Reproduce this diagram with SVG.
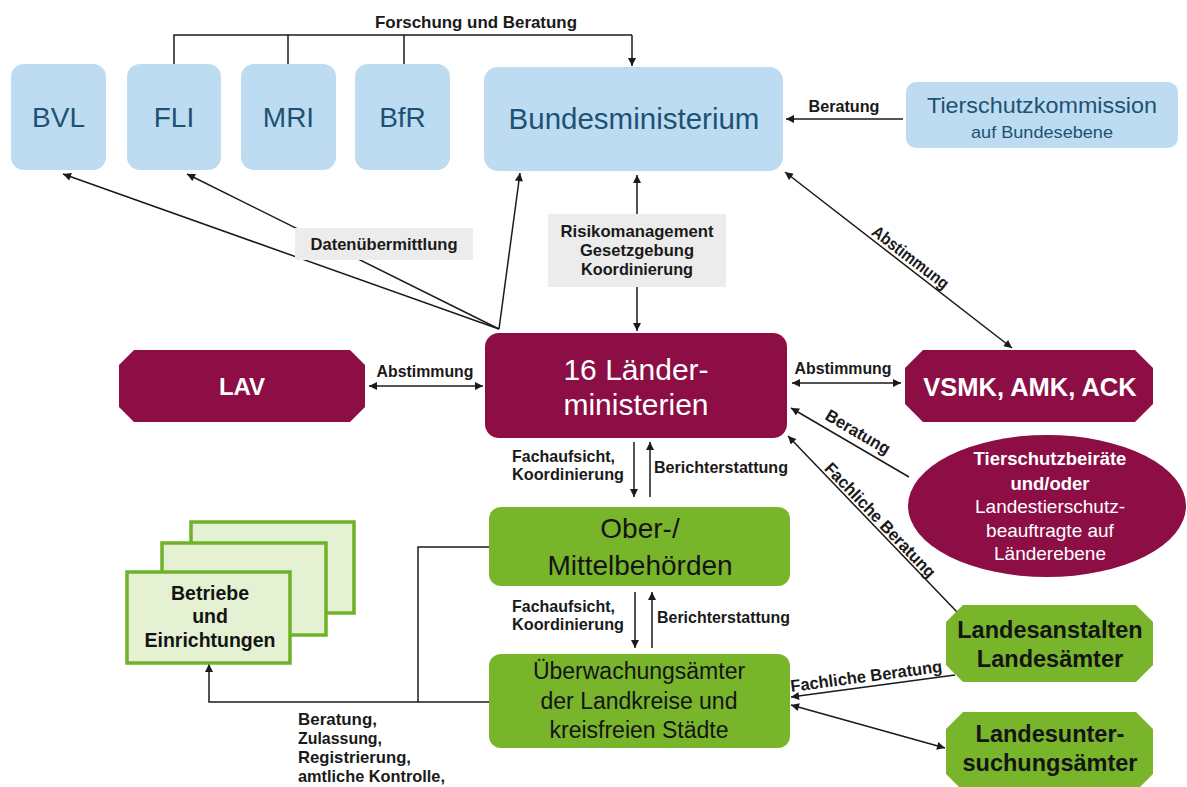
<svg xmlns="http://www.w3.org/2000/svg" width="1187" height="787" viewBox="0 0 1187 787">
<defs>
<marker id="ah" viewBox="0 0 10 10" refX="10" refY="5" markerWidth="9" markerHeight="8" markerUnits="userSpaceOnUse" orient="auto-start-reverse">
<path d="M0,0 L10,5 L0,10 z" fill="#1a1a1a"/>
</marker>
<style>
.blue{fill:#bddcf1}
.bt{font-family:"Liberation Sans",Arial,sans-serif;fill:#1d5274;text-anchor:middle}
.crim{fill:#8c0e45}
.wt{font-family:"Liberation Sans",Arial,sans-serif;fill:#ffffff;text-anchor:middle}
.green{fill:#78b52b}
.gt{font-family:"Liberation Sans",Arial,sans-serif;fill:#141414;text-anchor:middle}
.lbl{font-family:"Liberation Sans",Arial,sans-serif;font-weight:bold;font-size:17px;fill:#1a1a1a}
.ln{fill:none;stroke:#1a1a1a;stroke-width:1.5}
.arr{fill:none;stroke:#1a1a1a;stroke-width:1.5;marker-end:url(#ah)}
.arr2{fill:none;stroke:#1a1a1a;stroke-width:1.5;marker-end:url(#ah);marker-start:url(#ah)}
.gbox{fill:#ececec}
.stack{fill:#e4f1d3;stroke:#6fb22a;stroke-width:3.5}
</style>
</defs>
<rect width="1187" height="787" fill="#ffffff"/>

<g id="connectors">
<polyline class="ln" points="174,64 174,35 632,35"/>
<line class="ln" x1="288" y1="64" x2="288" y2="35"/>
<line class="ln" x1="404" y1="64" x2="404" y2="35"/>
<polyline class="arr" points="632,35 632,66"/>
<line class="arr" x1="903" y1="119" x2="786" y2="119"/>
<line class="arr2" x1="785" y1="172" x2="1012" y2="348"/>
<line class="arr" x1="499" y1="329" x2="63" y2="174"/>
<line class="arr" x1="499" y1="329" x2="187" y2="174"/>
<line class="arr" x1="499" y1="329" x2="520" y2="173"/>
<line class="arr" x1="637" y1="214" x2="637" y2="175"/>
<line class="arr" x1="637" y1="287" x2="637" y2="331"/>
<line class="arr2" x1="369" y1="386" x2="483" y2="386"/>
<line class="arr2" x1="792" y1="383" x2="901" y2="383"/>
<line class="arr" x1="909" y1="477" x2="791" y2="408"/>
<line class="arr" x1="958" y1="613" x2="788" y2="436"/>
<line class="arr" x1="634" y1="442" x2="634" y2="497"/>
<line class="arr" x1="650" y1="497" x2="650" y2="442"/>
<line class="arr" x1="635" y1="592" x2="635" y2="648"/>
<line class="arr" x1="652" y1="648" x2="652" y2="592"/>
<polyline class="ln" points="489,547 418,547 418,702"/>
<polyline class="arr" points="489,702 209,702 209,664"/>
<line class="arr" x1="955" y1="675" x2="791" y2="697"/>
<line class="arr2" x1="791" y1="705" x2="945" y2="748"/>
</g>

<g id="labels">
<text class="lbl" x="476" y="28" text-anchor="middle" textLength="202" lengthAdjust="spacingAndGlyphs">Forschung und Beratung</text>
<text class="lbl" x="844" y="112" text-anchor="middle" textLength="71" lengthAdjust="spacingAndGlyphs">Beratung</text>
<text class="lbl" transform="translate(907,262) rotate(37.5)" text-anchor="middle" textLength="92" lengthAdjust="spacingAndGlyphs">Abstimmung</text>
<rect class="gbox" x="295" y="228" width="178" height="32"/>
<text class="lbl" x="384" y="250" text-anchor="middle" textLength="147" lengthAdjust="spacingAndGlyphs">Datenübermittlung</text>
<rect class="gbox" x="548" y="214" width="178" height="73"/>
<text class="lbl" x="637" y="237" text-anchor="middle" textLength="153" lengthAdjust="spacingAndGlyphs">Risikomanagement</text>
<text class="lbl" x="637" y="256" text-anchor="middle" textLength="114" lengthAdjust="spacingAndGlyphs">Gesetzgebung</text>
<text class="lbl" x="637" y="275" text-anchor="middle" textLength="112" lengthAdjust="spacingAndGlyphs">Koordinierung</text>
<text class="lbl" x="425" y="377" text-anchor="middle" textLength="97" lengthAdjust="spacingAndGlyphs">Abstimmung</text>
<text class="lbl" x="843" y="374" text-anchor="middle" textLength="97" lengthAdjust="spacingAndGlyphs">Abstimmung</text>
<text class="lbl" transform="translate(855,437) rotate(30.3)" text-anchor="middle" textLength="72" lengthAdjust="spacingAndGlyphs">Beratung</text>
<text class="lbl" transform="translate(876,524) rotate(46.2)" text-anchor="middle" textLength="152" lengthAdjust="spacingAndGlyphs">Fachliche Beratung</text>
<text class="lbl" transform="translate(867,682) rotate(-7.6)" text-anchor="middle" textLength="153" lengthAdjust="spacingAndGlyphs">Fachliche Beratung</text>
<text class="lbl" x="512" y="462" textLength="103" lengthAdjust="spacingAndGlyphs">Fachaufsicht,</text>
<text class="lbl" x="512" y="480" textLength="112" lengthAdjust="spacingAndGlyphs">Koordinierung</text>
<text class="lbl" x="654" y="473" textLength="134" lengthAdjust="spacingAndGlyphs">Berichterstattung</text>
<text class="lbl" x="512" y="612" textLength="103" lengthAdjust="spacingAndGlyphs">Fachaufsicht,</text>
<text class="lbl" x="512" y="630" textLength="112" lengthAdjust="spacingAndGlyphs">Koordinierung</text>
<text class="lbl" x="657" y="623" textLength="133" lengthAdjust="spacingAndGlyphs">Berichterstattung</text>
<text class="lbl" x="298" y="725" textLength="79" lengthAdjust="spacingAndGlyphs">Beratung,</text>
<text class="lbl" x="298" y="744" textLength="84" lengthAdjust="spacingAndGlyphs">Zulassung,</text>
<text class="lbl" x="298" y="763" textLength="113" lengthAdjust="spacingAndGlyphs">Registrierung,</text>
<text class="lbl" x="298" y="782" textLength="147" lengthAdjust="spacingAndGlyphs">amtliche Kontrolle,</text>
</g>

<g id="bvl"><rect class="blue" x="11" y="64" width="95" height="106" rx="13"/><text class="bt" x="58.5" y="127" font-size="28">BVL</text></g>
<g id="fli"><rect class="blue" x="127" y="64" width="94" height="106" rx="13"/><text class="bt" x="174" y="127" font-size="28">FLI</text></g>
<g id="mri"><rect class="blue" x="241" y="64" width="95" height="106" rx="13"/><text class="bt" x="288.5" y="127" font-size="28">MRI</text></g>
<g id="bfr"><rect class="blue" x="355" y="64" width="95" height="106" rx="13"/><text class="bt" x="402.5" y="127" font-size="28">BfR</text></g>
<g id="bundesministerium"><rect class="blue" x="484" y="67" width="299" height="104" rx="14"/><text class="bt" x="634" y="129" font-size="29.5">Bundesministerium</text></g>
<g id="tierschutzkommission"><rect class="blue" x="906" y="82" width="272" height="66" rx="10"/><text class="bt" x="1042" y="113" font-size="22" textLength="230" lengthAdjust="spacingAndGlyphs">Tierschutzkommission</text><text class="bt" x="1042" y="138" font-size="17" textLength="142" lengthAdjust="spacingAndGlyphs">auf Bundesebene</text></g>

<g id="lav"><polygon class="crim" points="134,350 350,350 365,365 365,407 350,422 134,422 119,407 119,365"/><text class="wt" x="242" y="395" font-size="24" font-weight="bold">LAV</text></g>
<g id="laender"><rect class="crim" x="485" y="333" width="302" height="105" rx="14"/><text class="wt" x="636" y="380" font-size="30">16 Länder-</text><text class="wt" x="636" y="415" font-size="30">ministerien</text></g>
<g id="vsmk"><polygon class="crim" points="923,350 1135,350 1153,368 1153,404 1135,422 923,422 905,404 905,368"/><text class="wt" x="1030" y="396" font-size="25.5" font-weight="bold">VSMK, AMK, ACK</text></g>
<g id="tierschutzbeiraete"><ellipse class="crim" cx="1047" cy="506" rx="139" ry="71"/>
<text class="wt" x="1050" y="465" font-size="18.5" font-weight="bold">Tierschutzbeiräte</text>
<text class="wt" x="1050" y="490" font-size="18.5" font-weight="bold">und/oder</text>
<text class="wt" x="1050" y="513" font-size="19">Landestierschutz-</text>
<text class="wt" x="1050" y="537" font-size="19">beauftragte auf</text>
<text class="wt" x="1050" y="560" font-size="19">Länderebene</text></g>

<g id="ober"><rect class="green" x="489" y="507" width="301" height="79" rx="12"/><text class="gt" x="640" y="538" font-size="28">Ober-/</text><text class="gt" x="640" y="575" font-size="28">Mittelbehörden</text></g>
<g id="ueberwachung"><rect class="green" x="489" y="654" width="301" height="94" rx="12"/><text class="gt" x="639" y="679" font-size="23">Überwachungsämter</text><text class="gt" x="639" y="709" font-size="23">der Landkreise und</text><text class="gt" x="639" y="738" font-size="23">kreisfreien Städte</text></g>
<g id="landesanstalten"><polygon class="green" points="963,605 1136,605 1153,622 1153,665 1136,682 963,682 946,665 946,622"/><text class="gt" x="1050" y="638" font-size="23.5" font-weight="bold">Landesanstalten</text><text class="gt" x="1050" y="667" font-size="23.5" font-weight="bold">Landesämter</text></g>
<g id="landesuntersuchung"><polygon class="green" points="963,712 1136,712 1153,729 1153,774 1136,791 963,791 946,774 946,729"/><text class="gt" x="1050" y="742" font-size="23.5" font-weight="bold">Landesunter-</text><text class="gt" x="1050" y="771" font-size="23.5" font-weight="bold">suchungsämter</text></g>
<g id="betriebe">
<rect class="stack" x="191" y="522" width="163" height="91"/>
<rect class="stack" x="162" y="543" width="164" height="92"/>
<rect class="stack" x="127" y="572" width="163" height="91"/>
<text class="gt" x="210" y="600" font-size="19.5" font-weight="bold">Betriebe</text>
<text class="gt" x="210" y="623" font-size="19.5" font-weight="bold">und</text>
<text class="gt" x="210" y="647" font-size="19.5" font-weight="bold">Einrichtungen</text>
</g>
</svg>
